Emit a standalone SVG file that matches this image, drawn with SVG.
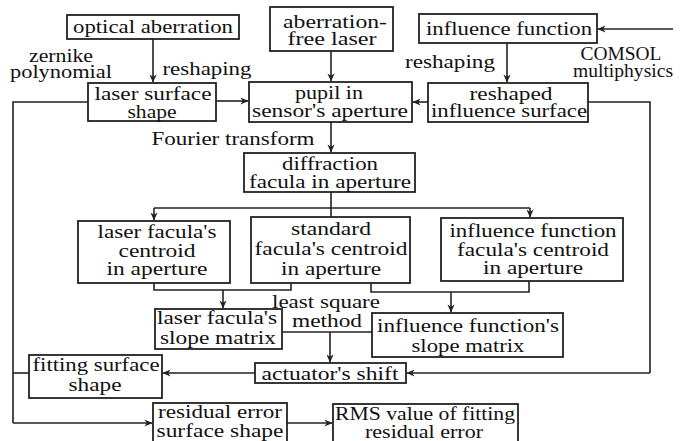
<svg xmlns="http://www.w3.org/2000/svg" width="680" height="441" viewBox="0 0 680 441" font-family="'Liberation Serif', 'Times New Roman', Times, serif">
<defs>
<marker id="ah" viewBox="0 0 10 10" refX="9.5" refY="5" markerWidth="8" markerHeight="8" markerUnits="userSpaceOnUse" orient="auto">
<path d="M0,0.5 L10,5 L0,9.5 L3,5 Z" fill="#222"/>
</marker>
<style>
rect{fill:#fff;stroke:#222;stroke-width:1.8}
text{font-size:19.5px;fill:#111;text-anchor:middle}
.c path{fill:none;stroke:#222;stroke-width:1.6}
.a{marker-end:url(#ah)}
</style>
</defs>
<rect x="0" y="0" width="680" height="441" style="fill:#fff;stroke:none"/>
<g class="c" id="connectors">
<path class="a" d="M153,39 V82"/>
<path class="a" d="M331,51 V81"/>
<path class="a" d="M507,43 V82"/>
<path class="a" d="M673,29 H598"/>
<path class="a" d="M216,101 H248"/>
<path class="a" d="M428,102 H413"/>
<path class="a" d="M331,122 V152"/>
<path d="M331,192 V217"/>
<path d="M154,208 H530"/>
<path class="a" d="M154,208 V220"/>
<path class="a" d="M530,208 V217"/>
<path d="M154,283 V290 H291 V283"/>
<path class="a" d="M223,290 V308"/>
<path d="M371,283 V292 H529 V281"/>
<path class="a" d="M451,292 V312"/>
<path d="M282,332 H372"/>
<path class="a" d="M330,332 V362"/>
<path d="M588,102 H650 V373"/>
<path class="a" d="M650,373 H407"/>
<path class="a" d="M255,373 H163"/>
<path d="M88,102 H13 V423"/>
<path d="M13,373 H29"/>
<path class="a" d="M13,423 H152"/>
<path class="a" d="M287,423 H332"/>
</g>
<g id="optical-aberration"><rect x="67" y="15" width="172" height="24"/><text x="153" y="33" textLength="160" lengthAdjust="spacingAndGlyphs">optical aberration</text></g>
<g id="aberration-free-laser"><rect x="270" y="7" width="123" height="44"/><text x="335" y="28" textLength="104" lengthAdjust="spacingAndGlyphs">aberration-</text><text x="332" y="45" textLength="89" lengthAdjust="spacingAndGlyphs">free laser</text></g>
<g id="influence-function"><rect x="419" y="14" width="178" height="29"/><text x="509" y="35" textLength="166" lengthAdjust="spacingAndGlyphs">influence function</text></g>
<g id="comsol-label"><text x="621" y="60" textLength="81" lengthAdjust="spacingAndGlyphs">COMSOL</text><text x="623" y="77" textLength="100" lengthAdjust="spacingAndGlyphs">multiphysics</text></g>
<g id="zernike-label"><text x="61" y="62" textLength="64" lengthAdjust="spacingAndGlyphs">zernike</text><text x="61" y="78" textLength="102" lengthAdjust="spacingAndGlyphs">polynomial</text></g>
<g id="reshaping-left"><text x="207" y="75" textLength="89" lengthAdjust="spacingAndGlyphs">reshaping</text></g>
<g id="reshaping-right"><text x="450" y="68" textLength="90" lengthAdjust="spacingAndGlyphs">reshaping</text></g>
<g id="laser-surface-shape"><rect x="88" y="83" width="128" height="38"/><text x="153" y="100" textLength="117" lengthAdjust="spacingAndGlyphs">laser surface</text><text x="152" y="118" textLength="49" lengthAdjust="spacingAndGlyphs">shape</text></g>
<g id="pupil"><rect x="249" y="82" width="163" height="40"/><text x="329" y="99" textLength="68" lengthAdjust="spacingAndGlyphs">pupil in</text><text x="330" y="117" textLength="156" lengthAdjust="spacingAndGlyphs">sensor's aperture</text></g>
<g id="reshaped-influence-surface"><rect x="428" y="83" width="160" height="39"/><text x="511" y="100" textLength="83" lengthAdjust="spacingAndGlyphs">reshaped</text><text x="509" y="117" textLength="156" lengthAdjust="spacingAndGlyphs">influence surface</text></g>
<g id="fourier-label"><text x="233" y="145" textLength="163" lengthAdjust="spacingAndGlyphs">Fourier transform</text></g>
<g id="diffraction-facula"><rect x="244" y="153" width="171" height="39"/><text x="330" y="170" textLength="96" lengthAdjust="spacingAndGlyphs">diffraction</text><text x="330" y="188" textLength="162" lengthAdjust="spacingAndGlyphs">facula in aperture</text></g>
<g id="laser-facula-centroid"><rect x="78" y="221" width="152" height="62"/><text x="157" y="238" textLength="119" lengthAdjust="spacingAndGlyphs">laser facula's</text><text x="157" y="257" textLength="77" lengthAdjust="spacingAndGlyphs">centroid</text><text x="157" y="275" textLength="101" lengthAdjust="spacingAndGlyphs">in aperture</text></g>
<g id="standard-facula-centroid"><rect x="251" y="217" width="159" height="66"/><text x="331" y="235" textLength="80" lengthAdjust="spacingAndGlyphs">standard</text><text x="331" y="255" textLength="153" lengthAdjust="spacingAndGlyphs">facula's centroid</text><text x="331" y="275" textLength="100" lengthAdjust="spacingAndGlyphs">in aperture</text></g>
<g id="influence-facula-centroid"><rect x="441" y="218" width="182" height="63"/><text x="533" y="237" textLength="167" lengthAdjust="spacingAndGlyphs">influence function</text><text x="533" y="256" textLength="152" lengthAdjust="spacingAndGlyphs">facula's centroid</text><text x="533" y="274" textLength="100" lengthAdjust="spacingAndGlyphs">in aperture</text></g>
<g id="laser-slope-matrix"><rect x="155" y="309" width="127" height="40"/><text x="217" y="324" textLength="120" lengthAdjust="spacingAndGlyphs">laser facula's</text><text x="218" y="344" textLength="116" lengthAdjust="spacingAndGlyphs">slope matrix</text></g>
<g id="least-square-label"><text x="326" y="308" textLength="108" lengthAdjust="spacingAndGlyphs">least square</text><text x="327" y="327" textLength="70" lengthAdjust="spacingAndGlyphs">method</text></g>
<g id="influence-slope-matrix"><rect x="372" y="313" width="191" height="44"/><text x="468" y="332" textLength="182" lengthAdjust="spacingAndGlyphs">influence function's</text><text x="468" y="352" textLength="113" lengthAdjust="spacingAndGlyphs">slope matrix</text></g>
<g id="actuator-shift"><rect x="255" y="363" width="151" height="20"/><text x="330" y="380" textLength="137" lengthAdjust="spacingAndGlyphs">actuator's shift</text></g>
<g id="fitting-surface-shape"><rect x="29" y="355" width="133" height="43"/><text x="96" y="371" textLength="127" lengthAdjust="spacingAndGlyphs">fitting surface</text><text x="95" y="391" textLength="53" lengthAdjust="spacingAndGlyphs">shape</text></g>
<g id="residual-error-surface"><rect x="153" y="403" width="134" height="42"/><text x="220" y="418" textLength="124" lengthAdjust="spacingAndGlyphs">residual error</text><text x="220" y="437" textLength="127" lengthAdjust="spacingAndGlyphs">surface shape</text></g>
<g id="rms-value"><rect x="333" y="404" width="185" height="41"/><text x="425" y="420" textLength="180" lengthAdjust="spacingAndGlyphs">RMS value of fitting</text><text x="424" y="438" textLength="118" lengthAdjust="spacingAndGlyphs">residual error</text></g>
</svg>
